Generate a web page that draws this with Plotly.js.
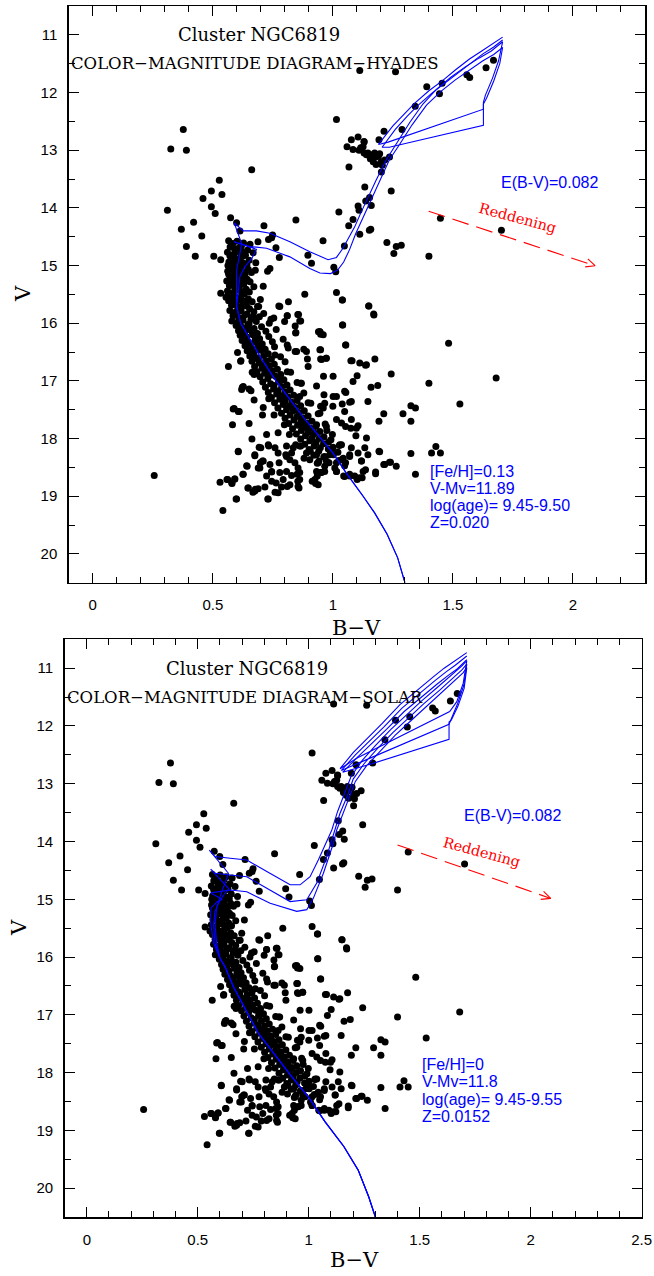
<!DOCTYPE html>
<html><head><meta charset="utf-8">
<script src="https://cdn.plot.ly/plotly-3.0.1.min.js"></script>
<style>html,body{margin:0;padding:0;background:#fff;}#plot{width:654px;height:1276px;}</style>
</head><body><div id="plot"></div>
<script>
// ---------- star data: [B-V, V] ----------
const blueStars = [[0.377,12.64],[0.325,12.98],[0.390,13.00],[0.527,13.52],[0.494,13.71],[0.538,13.77],[0.459,13.84],[0.494,13.98],[0.311,14.04],[0.510,14.10],[0.420,14.25],[0.369,14.37],[0.454,14.49],[0.390,14.67],[0.427,14.84],[0.504,14.84],[0.533,14.90],[0.574,14.17],[0.662,13.34],[0.256,18.64],[0.599,14.26],[0.613,14.40]];
const subgiantStars = [[0.713,14.31],[0.846,14.21],[0.749,14.47],[0.732,14.55],[0.745,14.52],[0.763,14.69],[0.777,14.86],[0.959,14.57],[0.896,14.82],[0.911,14.96],[1.048,14.66],[1.004,15.03],[1.012,15.11],[0.738,15.05],[0.728,15.10],[0.677,15.08],[0.710,15.36],[0.883,15.50],[1.015,15.47],[1.040,15.60],[0.815,15.63],[0.779,15.71],[0.691,15.71],[0.533,15.48],[0.555,15.55],[0.810,15.87],[0.857,15.85],[0.862,15.96],[0.843,16.05],[0.799,15.97],[0.754,15.91],[0.735,16.00],[0.846,16.16],[1.040,16.03],[0.946,16.15],[0.960,16.20],[1.149,15.70],[1.170,15.84]];
const giantStars = [[1.015,12.47],[1.077,12.82],[1.105,12.77],[1.130,12.86],[1.059,12.94],[1.084,12.99],[1.109,13.00],[1.126,12.94],[1.146,13.05],[1.160,13.11],[1.174,13.05],[1.156,13.15],[1.195,13.06],[1.202,13.20],[1.206,13.26],[1.216,13.17],[1.236,13.12],[1.192,12.82],[1.213,12.67],[1.288,12.64],[1.067,13.29],[1.202,13.38],[1.133,13.64],[1.243,13.71],[1.153,13.82],[1.137,13.88],[1.105,13.97],[1.160,13.96],[1.109,14.04],[1.025,14.07],[1.084,14.20],[1.066,14.31],[1.158,14.37],[1.112,14.46],[1.152,14.39],[1.225,14.60],[1.264,14.67],[1.285,14.65],[1.254,14.79],[1.400,14.84],[1.448,14.18],[1.702,14.39],[1.343,12.24],[1.112,11.62],[1.261,11.64],[1.391,11.90],[1.455,11.84],[1.444,12.02],[1.558,11.69],[1.570,11.74],[1.638,11.57],[1.669,11.44],[1.130,12.85],[1.116,12.96],[1.170,13.07],[1.180,13.12],[1.190,13.10],[1.130,13.05],[1.140,13.08],[1.168,13.20],[1.180,13.25]];
const fieldStars = [[1.482,16.35],[1.680,16.95],[1.529,17.40],[1.400,17.04],[1.325,17.43],[1.344,17.47],[1.292,17.57],[1.325,17.70],[1.212,17.57],[1.192,17.70],[1.243,16.88],[1.187,17.08],[1.159,17.11],[1.175,16.62],[1.136,16.73],[1.075,16.65],[1.053,16.38],[1.041,16.03],[1.171,15.86],[1.150,15.70],[1.039,15.60],[1.101,16.91],[1.084,17.01],[1.429,18.14],[1.411,18.25],[1.448,18.25],[1.325,18.26],[1.344,18.62],[1.264,18.48],[1.240,18.41],[1.212,18.45],[1.192,18.22],[1.178,18.58],[1.140,17.99],[1.105,17.78],[1.075,17.82],[1.096,17.95],[1.053,17.79],[1.070,17.37],[1.049,17.18],[1.039,17.40],[1.001,17.27],[1.001,16.92],[0.961,16.92],[0.949,16.62],[0.972,16.61],[0.949,16.46],[0.940,16.15],[0.949,16.19],[0.879,16.45],[0.894,16.62],[0.843,16.49],[0.854,15.85],[0.810,15.87],[0.866,15.96],[0.845,16.17],[0.775,15.70],[0.565,16.75],[0.603,16.51],[0.616,16.66],[0.623,17.11],[0.620,17.15],[0.585,17.49],[0.606,17.53],[0.582,17.76],[0.651,17.74],[0.606,18.22],[0.663,18.01],[0.675,18.30],[0.707,18.39],[0.641,18.47],[0.625,18.62],[0.530,18.76],[0.559,18.71],[0.580,18.78],[0.591,18.70],[0.597,19.05],[0.542,19.25],[0.646,18.86],[0.667,18.93],[0.677,18.88],[0.717,18.84],[0.729,19.05],[0.759,18.93],[0.772,18.94],[0.764,18.77],[0.810,18.83],[0.828,18.64],[0.859,18.86],[0.854,18.74],[0.862,18.59],[0.914,18.74],[0.928,18.78],[0.935,18.65],[0.949,18.59],[0.966,18.57],[1.015,18.57],[1.049,18.66],[1.070,18.65],[1.101,18.71],[1.122,18.68],[1.136,18.54],[1.119,18.39],[1.070,18.28],[1.053,18.42],[1.027,18.12],[1.000,18.25],[0.966,18.31],[0.935,18.43],[0.906,18.22],[0.880,18.34],[0.866,18.13],[0.845,18.11],[0.828,18.25],[0.807,18.13],[0.807,18.31],[0.776,18.42],[0.745,18.57],[0.724,18.65],[0.698,18.42],[0.689,18.51],[0.733,18.13],[0.693,18.15],[0.724,17.93],[0.772,17.90],[0.798,17.76],[0.819,17.93],[0.876,17.79],[0.918,17.93],[0.932,17.76],[0.975,17.86],[0.992,18.02],[0.707,17.59],[0.755,17.59],[0.710,17.46],[0.733,17.31],[0.793,17.33],[0.862,17.27],[0.897,17.38],[0.949,17.44],[0.963,17.24],[0.932,17.09],[0.866,17.04],[0.810,16.84],[0.776,16.95],[0.724,16.87],[0.759,16.55],[0.810,16.38],[0.655,16.49],[0.672,16.89],[0.651,17.14],[0.672,17.33],[0.617,16.65],[0.589,17.48],[0.610,17.53],[0.627,17.10],[0.659,17.17],[0.664,16.85],[0.946,17.56],[0.960,17.47],[0.966,17.39],[1.000,17.44],[1.015,17.27],[1.049,17.53],[1.015,17.67],[0.973,17.79],[1.036,17.73],[1.077,17.67],[1.098,17.82],[1.054,17.20],[1.077,17.36],[1.112,16.69],[1.140,16.72],[1.080,16.65],[1.054,16.38],[0.814,16.43],[0.849,16.49],[0.890,16.49],[0.897,16.75],[0.946,16.46],[0.953,16.63],[0.973,16.61],[0.946,16.15],[0.869,17.04],[1.036,18.11],[1.146,17.36]];
const lowerMSStars = [[0.562,18.71],[0.579,18.77],[0.592,18.70],[0.599,19.05],[0.606,18.23],[0.643,18.48],[0.627,18.62],[0.648,18.86],[0.675,18.91],[0.689,18.87],[0.731,19.05],[0.745,18.74],[0.786,18.84],[0.821,18.80],[0.855,18.83],[0.862,18.71],[0.851,18.62],[0.793,18.71],[0.779,18.59],[0.807,18.57],[0.745,18.58],[0.738,18.45],[0.710,18.39],[0.696,18.51],[0.675,18.28],[0.700,18.16],[0.731,18.11],[0.759,18.16],[0.772,18.25],[0.804,18.28],[0.821,18.37],[0.842,18.42],[0.855,18.51],[0.835,18.16],[0.862,18.13],[0.890,18.25],[0.904,18.37],[0.932,18.28],[0.939,18.42],[0.932,18.57],[0.925,18.71],[0.939,18.80],[0.953,18.59],[0.973,18.39],[0.987,18.28],[1.015,18.42],[1.015,18.57],[1.036,18.37],[1.045,18.65],[1.070,18.62],[1.091,18.65],[1.112,18.68],[1.126,18.57],[1.119,18.39],[1.070,18.31],[1.077,18.16],[1.105,18.25],[1.133,18.16],[1.146,18.28],[1.195,18.23],[1.178,18.61],[1.216,18.45],[1.236,18.41],[1.029,18.11]];
const msUpperCore = [[0.566,14.57],[0.583,14.62],[0.601,14.58],[0.628,14.61],[0.655,14.63],[0.688,14.59],[0.572,14.68],[0.597,14.71],[0.619,14.66],[0.645,14.73],[0.561,14.77],[0.589,14.80],[0.608,14.76],[0.636,14.82],[0.668,14.78],[0.577,14.86],[0.602,14.89],[0.624,14.84],[0.651,14.91],[0.567,14.94],[0.593,14.97],[0.615,14.93],[0.642,14.99],[0.679,14.95],
[0.574,15.02],[0.598,15.05],[0.621,15.01],[0.648,15.07],[0.562,15.10],[0.586,15.13],[0.611,15.09],[0.634,15.15],[0.661,15.12],[0.571,15.18],[0.595,15.21],[0.618,15.17],[0.643,15.24],[0.558,15.27],[0.583,15.29],[0.606,15.25],[0.629,15.32],[0.655,15.28],[0.569,15.35],[0.592,15.38],[0.614,15.34],[0.639,15.41],[0.671,15.37],[0.561,15.44],[0.585,15.47],[0.609,15.43],[0.632,15.49],
[0.578,14.64],[0.612,14.69],[0.592,14.74],[0.631,14.77],[0.571,14.83],[0.614,14.87],[0.585,14.92],[0.628,14.96],[0.563,15.00],[0.609,15.03],[0.581,15.08],[0.624,15.11],[0.566,15.15],[0.601,15.19],[0.632,15.22],[0.575,15.24],[0.617,15.30],[0.581,15.33],[0.599,15.42],[0.627,15.45],[0.652,15.46]];
const msMidCore = [[0.573,15.52],[0.597,15.55],[0.621,15.51],[0.648,15.58],[0.566,15.61],[0.589,15.64],[0.612,15.60],[0.637,15.66],[0.664,15.63],[0.698,15.59],[0.578,15.69],[0.603,15.72],[0.627,15.68],[0.653,15.75],[0.686,15.71],[0.571,15.78],[0.594,15.81],[0.618,15.77],[0.642,15.84],[0.671,15.80],[0.712,15.83],[0.584,15.87],[0.608,15.90],[0.633,15.86],[0.659,15.93],[0.694,15.89],[0.579,15.96],[0.601,15.99],[0.626,15.95],[0.651,16.01],[0.681,15.97],[0.742,15.93],
[0.597,16.04],[0.621,16.07],[0.646,16.03],[0.672,16.09],[0.703,16.06],[0.607,16.13],[0.632,16.16],[0.658,16.12],[0.686,16.18],[0.721,16.14],[0.764,16.11],[0.614,16.21],[0.641,16.24],[0.667,16.20],[0.695,16.27],[0.733,16.23],[0.622,16.30],[0.648,16.33],[0.676,16.29],[0.706,16.36],[0.748,16.32],[0.793,16.28],[0.634,16.39],[0.661,16.42],[0.689,16.38],[0.718,16.45],[0.757,16.41],[0.643,16.48],[0.671,16.51],[0.699,16.47],[0.731,16.53],
[0.579,15.57],[0.616,15.57],[0.633,15.62],[0.598,15.67],[0.641,15.70],[0.612,15.79],[0.587,15.84],[0.624,15.92],[0.668,15.88],[0.613,16.02],[0.638,16.11],[0.663,16.15],[0.628,16.26],[0.657,16.37],[0.683,16.33],[0.677,16.46]];
const msLowerCore = [[0.654,16.57],[0.683,16.60],[0.712,16.56],[0.744,16.62],[0.782,16.58],[0.663,16.66],[0.693,16.69],[0.723,16.65],[0.756,16.71],[0.801,16.67],[0.674,16.75],[0.705,16.78],[0.736,16.74],[0.769,16.80],[0.684,16.84],[0.716,16.87],[0.748,16.83],[0.783,16.89],[0.824,16.85],[0.697,16.93],[0.729,16.96],[0.761,16.92],[0.796,16.98],
[0.708,17.02],[0.741,17.05],[0.774,17.01],[0.809,17.07],[0.851,17.03],[0.719,17.11],[0.753,17.14],[0.787,17.10],[0.822,17.16],[0.731,17.20],[0.766,17.23],[0.801,17.19],[0.837,17.25],[0.879,17.21],[0.744,17.29],[0.779,17.32],[0.814,17.28],[0.851,17.34],[0.757,17.38],[0.793,17.41],[0.829,17.37],[0.866,17.43],[0.908,17.39],[0.771,17.47],[0.807,17.50],[0.843,17.46],[0.881,17.52],
[0.786,17.56],[0.822,17.59],[0.859,17.55],[0.897,17.61],[0.939,17.57],[0.801,17.65],[0.838,17.68],[0.875,17.64],[0.913,17.70],[0.816,17.74],[0.853,17.77],[0.891,17.73],[0.929,17.79],[0.968,17.75],[0.832,17.83],[0.869,17.86],[0.907,17.82],[0.946,17.88],[0.848,17.92],[0.886,17.95],[0.924,17.91],[0.963,17.97],[0.998,17.93],
[0.866,18.01],[0.904,18.04],[0.943,18.00],[0.982,18.06],[0.883,18.10],[0.922,18.13],[0.961,18.09],[1.001,18.15],[0.901,18.19],[0.941,18.22],[0.981,18.18],[1.021,18.24],[0.921,18.29],[0.962,18.32],[1.002,18.28],[1.043,18.34],[0.942,18.39],[0.984,18.42],[1.025,18.38],[0.966,18.48],[1.008,18.51],[1.049,18.47],
[0.664,16.55],[0.689,16.63],[0.709,16.72],[0.727,16.81],[0.742,16.90],[0.755,17.08],[0.772,17.17],[0.788,17.26],[0.801,17.35],[0.818,17.44],[0.834,17.52],[0.851,17.62],[0.867,17.71],[0.882,17.80],[0.897,17.89],[0.913,17.99],[0.930,18.07],[0.948,18.16]];

// ---------- isochrones: [B-V, V] ----------
const msLowerTop = [[1.30,20.5],[1.27,20.07],[1.226,19.66],[1.174,19.29],[1.126,19.0],[1.056,18.6],[1.0,18.25],[0.95,18.0],[0.89,17.7],[0.835,17.4],[0.763,17.0],[0.70,16.6],[0.646,16.23],[0.616,16.0],[0.599,15.71]];
const isoHyades945 = [[0.599,15.42],[0.599,15.08],[0.613,14.79],[0.62,14.62],[0.589,14.26],[0.627,14.40],[0.682,14.40],[0.738,14.44],[0.821,14.59],[0.904,14.76],[0.98,14.90],[1.015,14.86],[1.042,14.70],[1.07,14.50],[1.091,14.33],[1.115,14.10],[1.14,13.87],[1.18,13.52],[1.222,13.17],[1.264,12.89],[1.32,12.52],[1.375,12.20],[1.43,11.95],[1.49,11.74],[1.55,11.56],[1.61,11.40],[1.66,11.28],[1.707,11.12],[1.69,11.45],[1.665,11.75],[1.635,12.05],[1.627,12.17],[1.627,12.29],[1.23,12.86],[1.19,12.90],[1.25,12.58],[1.30,12.36],[1.34,12.19],[1.40,11.97],[1.458,11.79],[1.51,11.61],[1.569,11.42],[1.62,11.28],[1.666,11.16],[1.707,11.04]];
const isoHyades950 = [[0.606,15.48],[0.613,15.19],[0.634,15.02],[0.662,14.88],[0.682,14.72],[0.589,14.59],[0.599,14.60],[0.655,14.67],[0.724,14.70],[0.821,14.85],[0.904,15.05],[0.946,15.13],[0.99,15.14],[1.02,15.08],[1.045,14.94],[1.07,14.72],[1.095,14.45],[1.12,14.22],[1.145,14.00],[1.195,13.52],[1.235,13.17],[1.275,12.92],[1.33,12.56],[1.39,12.22],[1.45,11.98],[1.51,11.78],[1.57,11.61],[1.625,11.45],[1.67,11.34],[1.707,11.22],[1.695,11.5],[1.67,11.8],[1.64,12.1],[1.627,12.2],[1.627,12.57],[1.235,12.95],[1.205,12.95],[1.26,12.64],[1.31,12.41],[1.35,12.24],[1.41,12.02],[1.465,11.84],[1.52,11.66],[1.575,11.48],[1.625,11.33],[1.67,11.21],[1.707,11.09]];
const msLowerBot = [[1.30,20.5],[1.27,20.15],[1.223,19.69],[1.158,19.28],[1.073,18.85],[0.998,18.42],[0.923,18.07],[0.848,17.70],[0.773,17.32],[0.717,16.92],[0.66,16.51],[0.623,16.17],[0.60,16.02]];
const isoSolar945 = [[0.585,15.76],[0.578,15.45],[0.585,15.15],[0.605,14.90],[0.625,14.70],[0.638,14.55],[0.552,14.15],[0.578,14.26],[0.646,14.29],[0.721,14.32],[0.811,14.52],[0.916,14.75],[0.961,14.75],[1.006,14.61],[1.043,14.32],[1.081,13.98],[1.104,13.80],[1.13,13.48],[1.165,13.15],[1.19,12.88],[1.24,12.60],[1.30,12.34],[1.37,12.06],[1.44,11.81],[1.51,11.56],[1.58,11.33],[1.64,11.13],[1.69,10.96],[1.712,10.87],[1.696,11.26],[1.667,11.58],[1.635,11.75],[1.22,12.55],[1.141,12.74],[1.20,12.46],[1.261,12.23],[1.33,11.96],[1.411,11.63],[1.49,11.37],[1.561,11.15],[1.61,11.00],[1.651,10.89],[1.712,10.73]];
const isoSolar950 = [[0.578,15.76],[0.571,15.45],[0.578,15.20],[0.60,15.02],[0.622,14.90],[0.64,14.82],[0.558,14.48],[0.578,14.55],[0.646,14.58],[0.721,14.61],[0.811,14.81],[0.916,15.04],[0.991,15.01],[1.036,14.72],[1.081,14.26],[1.111,13.86],[1.14,13.52],[1.175,13.20],[1.20,12.92],[1.25,12.65],[1.31,12.39],[1.38,12.11],[1.45,11.86],[1.52,11.61],[1.59,11.38],[1.645,11.19],[1.69,11.03],[1.712,10.93],[1.698,11.3],[1.67,11.62],[1.64,11.88],[1.632,11.97],[1.25,12.60],[1.147,12.77],[1.21,12.50],[1.27,12.28],[1.34,12.01],[1.42,11.69],[1.50,11.43],[1.57,11.21],[1.62,11.06],[1.66,10.95],[1.712,10.79]];
const isoSolar955 = [[0.571,15.76],[0.556,15.36],[0.56,15.15],[0.585,15.05],[0.61,15.00],[0.558,14.89],[0.646,14.84],[0.721,14.87],[0.826,15.07],[0.946,15.21],[0.991,15.18],[1.021,14.98],[1.066,14.55],[1.111,14.03],[1.126,13.80],[1.15,13.55],[1.18,13.25],[1.21,12.96],[1.26,12.69],[1.32,12.44],[1.39,12.16],[1.46,11.91],[1.53,11.66],[1.60,11.42],[1.65,11.24],[1.695,11.08],[1.712,10.99],[1.70,11.35],[1.672,11.66],[1.642,11.90],[1.632,11.93],[1.632,12.23],[1.28,12.66],[1.153,12.80],[1.22,12.54],[1.28,12.32],[1.35,12.06],[1.43,11.75],[1.51,11.49],[1.58,11.27],[1.63,11.12],[1.67,11.01],[1.712,10.85]];

// reddening vector
const reddenTop = [[1.399,14.06],[2.092,15.003]];
const reddenTopHead = [[2.062,14.885],[2.092,15.003],[2.051,15.024]];
const reddenBot = [[1.40,14.06],[2.09,14.985]];
const reddenBotHead = [[2.058,14.864],[2.09,14.985],[2.045,15.002]];

// tick values
const xTicksTop = [0,0.5,1,1.5,2];
const xTicksBot = [0,0.5,1,1.5,2,2.5];
const yTicks = [11,12,13,14,15,16,17,18,19,20];

// ---------- build ----------
const allStars = [].concat(blueStars, subgiantStars, giantStars, fieldStars, lowerMSStars, msUpperCore, msMidCore, msLowerCore);
const X = a => a.map(p => p[0]), Y = a => a.map(p => p[1]);

const BLUE = '#0000ff', RED = '#ff0000';
function starTrace(xa, ya){ return {x:X(allStars), y:Y(allStars), xaxis:xa, yaxis:ya, mode:'markers', type:'scatter', marker:{color:'#000', size:7, line:{width:0}}, hoverinfo:'skip'}; }
function lineTrace(pts, xa, ya, color, width, dash){ return {x:X(pts), y:Y(pts), xaxis:xa, yaxis:ya, mode:'lines', type:'scatter', line:{color:color, width:width, dash:dash||'solid'}, hoverinfo:'skip'}; }

const traces = [
  starTrace('x','y'),
  lineTrace(msLowerTop.concat(isoHyades945),'x','y',BLUE,1.1),
  lineTrace(msLowerTop.concat(isoHyades950),'x','y',BLUE,1.1),
  lineTrace(reddenTop,'x','y',RED,1.1,'17px,8px'),
  lineTrace(reddenTopHead,'x','y',RED,1.1),
  starTrace('x2','y2'),
  lineTrace(msLowerBot.concat(isoSolar945),'x2','y2',BLUE,1.1),
  lineTrace(msLowerBot.concat(isoSolar950),'x2','y2',BLUE,1.1),
  lineTrace(msLowerBot.concat(isoSolar955),'x2','y2',BLUE,1.1),
  lineTrace(reddenBot,'x2','y2',RED,1.1,'17px,8px'),
  lineTrace(reddenBotHead,'x2','y2',RED,1.1)
];

const tickFont = {family:'Liberation Sans, Arial, sans-serif', size:15, color:'#000'};
function xAxis(domain, range, anchor, tv){
  return {domain:domain, range:range, anchor:anchor, tickmode:'array', tickvals:tv, ticktext:tv.map(String),
    ticks:'inside', ticklen:10, tickwidth:1, tickcolor:'#000',
    minor:{dtick:0.1, tick0:0, ticks:'inside', ticklen:6, tickwidth:1, tickcolor:'#000', showgrid:false},
    showline:true, linecolor:'#000', linewidth:1.5, mirror:'allticks', showgrid:false, zeroline:false,
    tickfont:tickFont, ticklabelstandoff:8, fixedrange:true};
}
function yAxis(domain, anchor){
  return {domain:domain, range:[20.5,10.5], anchor:anchor, tickmode:'array', tickvals:yTicks, ticktext:yTicks.map(String),
    ticks:'inside', ticklen:10, tickwidth:1, tickcolor:'#000',
    minor:{dtick:0.5, tick0:0, ticks:'inside', ticklen:6, tickwidth:1, tickcolor:'#000', showgrid:false},
    showline:true, linecolor:'#000', linewidth:1.5, mirror:'allticks', showgrid:false, zeroline:false,
    tickfont:tickFont, ticklabelstandoff:7, fixedrange:true};
}

const serif = 'DejaVu Serif, serif';
const sans = 'Liberation Sans, Arial, sans-serif';
function ann(text, x, y, xr, yr, opts){
  return Object.assign({text:text, x:x, y:y, xref:xr, yref:yr, showarrow:false, xanchor:'center', yanchor:'middle',
    font:{family:sans, size:16, color:BLUE}}, opts||{});
}
const W = 654, H = 1276;
const px = v => v / W, py = v => 1 - v / H;
const titleFont = {family:serif, size:18, color:'#000'};
const subFont = {family:serif, size:16.5, color:'#000'};
const axFont = {family:serif, size:21, color:'#000'};
const redFont = {family:serif, size:14.5, color:RED};

const annotations = [
  // top panel
  ann('Cluster NGC6819', 0.692, 11.0, 'x', 'y', {font:titleFont}),
  ann('COLOR−MAGNITUDE DIAGRAM−HYADES', 0.677, 11.5, 'x', 'y', {font:subFont}),
  ann('E(B-V)=0.082', 1.902, 13.555, 'x', 'y'),
  ann('Reddening', 1.77, 14.18, 'x', 'y', {textangle:15, font:redFont}),
  ann('[Fe/H]=0.13', 1.398, 18.57, 'x', 'y', {xanchor:'left'}),
  ann('V-Mv=11.89', 1.398, 18.86, 'x', 'y', {xanchor:'left'}),
  ann('log(age)= 9.45-9.50', 1.398, 19.16, 'x', 'y', {xanchor:'left'}),
  ann('Z=0.020', 1.398, 19.46, 'x', 'y', {xanchor:'left'}),
  ann('B−V', px(357), py(628), 'paper', 'paper', {font:axFont}),
  ann('V', px(23), py(294), 'paper', 'paper', {textangle:-90, font:axFont}),
  // bottom panel
  ann('Cluster NGC6819', 0.722, 11.0, 'x2', 'y2', {font:titleFont}),
  ann('COLOR−MAGNITUDE DIAGRAM−SOLAR', 0.711, 11.5, 'x2', 'y2', {font:subFont}),
  ann('E(B-V)=0.082', 1.918, 13.555, 'x2', 'y2'),
  ann('Reddening', 1.777, 14.19, 'x2', 'y2', {textangle:15, font:redFont}),
  ann('[Fe/H]=0', 1.501, 17.855, 'x2', 'y2', {xanchor:'left'}),
  ann('V-Mv=11.8', 1.501, 18.15, 'x2', 'y2', {xanchor:'left'}),
  ann('log(age)= 9.45-9.55', 1.501, 18.46, 'x2', 'y2', {xanchor:'left'}),
  ann('Z=0.0152', 1.501, 18.755, 'x2', 'y2', {xanchor:'left'}),
  ann('B−V', px(354), py(1260), 'paper', 'paper', {font:axFont}),
  ann('V', px(19), py(928), 'paper', 'paper', {textangle:-90, font:axFont})
];

const layout = {
  width:W, height:H, margin:{l:0, r:0, t:0, b:0}, showlegend:false,
  paper_bgcolor:'#fff', plot_bgcolor:'#fff',
  xaxis: xAxis([68.75/W, 645/W], [-0.1, 2.3], 'y', xTicksTop),
  yaxis: yAxis([1-582.7/H, 1-6/H], 'x'),
  xaxis2: xAxis([64.6/W, 641.7/W], [-0.1, 2.5], 'y2', xTicksBot),
  yaxis2: yAxis([1-1217/H, 1-639.3/H], 'x2'),
  annotations: annotations
};
Plotly.newPlot('plot', traces, layout, {staticPlot:true, displayModeBar:false});
</script></body></html>
